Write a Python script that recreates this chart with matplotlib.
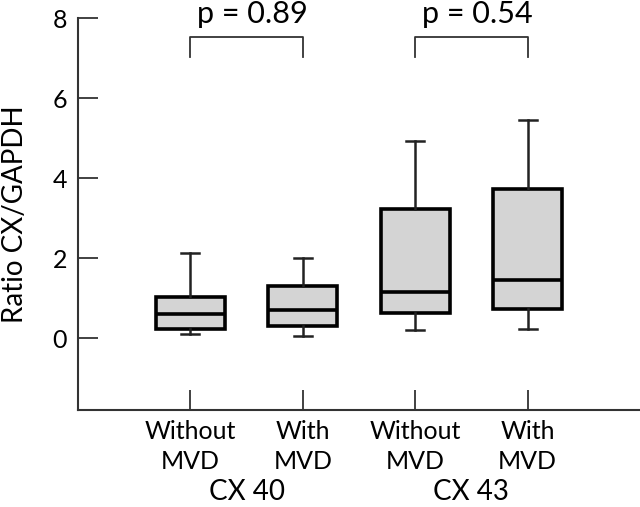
import matplotlib
matplotlib.use("Agg")
import matplotlib.pyplot as plt

plt.rcParams['font.family'] = ['Lato', 'DejaVu Sans']

# box statistics
groups = ["Without\nMVD", "With\nMVD", "Without\nMVD", "With\nMVD"]
whis_lo = [0.09, 0.06, 0.19, 0.22]
q1 = [0.22, 0.29, 0.62, 0.73]
median = [0.60, 0.69, 1.14, 1.46]
q3 = [1.03, 1.30, 3.22, 3.72]
whis_hi = [2.13, 2.00, 4.92, 5.45]

markers = ["CX 40", "CX 43"]
p_values = ["p = 0.89", "p = 0.54"]

stats = []
for i in range(len(groups)):
    stats.append(dict(whislo=whis_lo[i], q1=q1[i], med=median[i],
                      q3=q3[i], whishi=whis_hi[i], fliers=[]))

fig = plt.figure(figsize=(6.4, 5.07), dpi=100)
ax = fig.add_axes([78/640, 97/507, 562/640, 392/507])

pos = [1, 2, 3, 4]
ax.bxp(stats, positions=pos, widths=0.615, patch_artist=True,
       showfliers=False,
       boxprops=dict(facecolor="#d4d4d4", edgecolor="black", linewidth=2.6),
       medianprops=dict(color="black", linewidth=2.6),
       whiskerprops=dict(color="#222222", linewidth=1.8),
       capprops=dict(color="#222222", linewidth=1.8),
       capwidths=0.16)

ax.set_xlim(0, 5)
ax.set_ylim(-1.8, 8)
ax.set_yticks([0, 2, 4, 6, 8])
ax.set_xticks(pos)
ax.set_xticklabels(groups, fontsize=18, linespacing=1.4)
ax.tick_params(axis="both", direction="in", length=14.4, width=1.3,
               color="#333333", labelsize=18)
ax.tick_params(axis="y", pad=8)
ax.tick_params(axis="x", pad=7)

for s in ["top", "right"]:
    ax.spines[s].set_visible(False)
for s in ["left", "bottom"]:
    ax.spines[s].set_linewidth(1.5)
    ax.spines[s].set_color("#333333")

ax.set_ylabel("Ratio CX/GAPDH", fontsize=20)
ax.yaxis.set_label_coords(-0.089, 0.5)

# group labels under the tick labels
for k, name in enumerate(markers):
    ax.text(1.5 + 2*k, -4.04, name, ha="center", va="baseline", fontsize=20,
            clip_on=False)

# significance brackets
for k, p in enumerate(p_values):
    x0, x1 = 1 + 2*k, 2 + 2*k
    ax.plot([x0, x0, x1, x1], [7.03, 7.53, 7.53, 7.03], color="#333333",
            linewidth=1.3, clip_on=False)
    ax.text((x0 + x1) / 2 + 0.05, 7.87, p, ha="center", va="baseline",
            fontsize=22, clip_on=False)

fig.savefig("out.png", dpi=100)
